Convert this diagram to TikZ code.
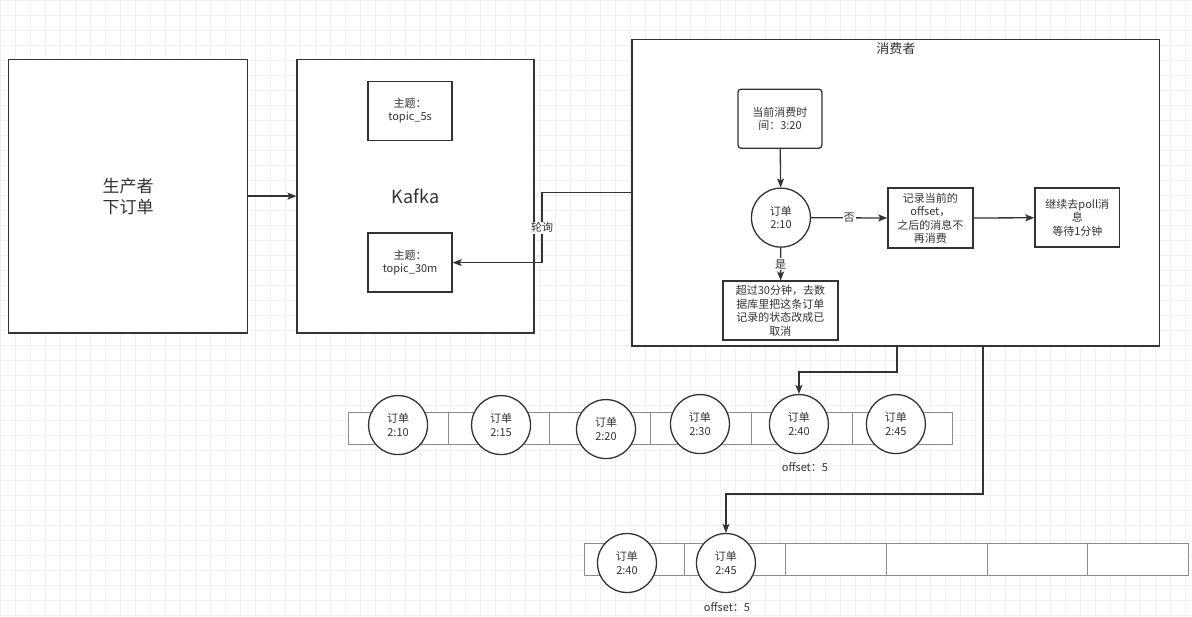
\documentclass[tikz,border=0pt]{standalone}
\usepackage{fontspec}
\setmainfont{Noto Sans CJK SC}
\usetikzlibrary{positioning, arrows.meta, calc}
\definecolor{linegray}{HTML}{333333}
\definecolor{cellgray}{HTML}{8C8C8C}

\begin{document}
\begin{tikzpicture}[
  x=1pt, y=-1pt,
  every node/.style={text=linegray, align=center, font=\fontsize{11}{13.5}\selectfont},
  box/.style={draw=linegray, line width=1.3pt, fill=white, inner sep=2pt},
  bigbox/.style={box, font=\fontsize{17}{21}\selectfont},
  cell/.style={draw=cellgray, line width=0.8pt, fill=white, minimum width=100.8pt, minimum height=32pt},
  order/.style={circle, draw=linegray, line width=1.3pt, fill=white, minimum size=59pt, inner sep=0pt},
  arr/.style={draw=linegray, line width=1.3pt, -{Stealth[length=9pt, width=7pt, inset=2pt]}},
  tag/.style={fill=white, inner sep=1pt}
]

% background grid
\fill[white] (0,0) rectangle (1192,616);
\draw[black!6, line width=0.4pt, step=15pt] (0,0) grid (1192,616);
\useasboundingbox (0,0) rectangle (1192,616);

% producer and kafka
\node[bigbox, minimum width=239pt, minimum height=274pt] (producer) at (128,196) {生产者\\下订单};
\node[bigbox, minimum width=237pt, minimum height=274pt, font=\fontsize{18}{22}\selectfont] (kafka) at (415.5,196) {Kafka};
\node[box, minimum width=84pt, minimum height=59pt] (topic5s) at (410,110.5) {主题：\\topic\_5s};
\node[box, minimum width=84pt, minimum height=59pt] (topic30m) at (410,262.5) {主题：\\topic\_30m};

% consumer
\node[box, minimum width=528pt, minimum height=307pt] (consumer) at (896,192.5) {};
\node[font=\fontsize{13}{16}\selectfont] (consumerTitle) at (896,48) {消费者};
\node[box, rounded corners=3pt, minimum width=84pt, minimum height=59pt] (timebox) at (780,118.5) {当前消费时\\间：3:20};
\node[order] (check) at (781,217.5) {订单\\2:10};
\node[box, minimum width=85pt, minimum height=60pt] (recordbox) at (930.5,218) {记录当前的\\offset，\\之后的消息不\\再消费};
\node[box, minimum width=85pt, minimum height=59pt] (pollbox) at (1077.5,217.5) {继续去poll消\\息\\等待1分钟};
\node[box, minimum width=115pt, minimum height=59pt] (cancelbox) at (780.5,310.5) {超过30分钟，去数\\据库里把这条订单\\记录的状态改成已\\取消};

\draw[arr] (producer) -- (kafka);
\draw[arr] (consumer.west) -- (542,192.5) |- node[tag, pos=0.25] {轮询} (topic30m.east);
\draw[arr] (timebox) -- (check);
\draw[arr] (check) -- node[tag] {否} (recordbox);
\draw[arr] (recordbox) -- (pollbox);
\draw[arr] (check) -- node[tag] {是} (cancelbox);

% first partition row
\foreach \i in {0,...,5}
  \node[cell] (cellA\i) at (398.4+100.8*\i,428) {};
\foreach \x/\y/\t [count=\i from 0] in {398/425/2:10, 501/425/2:15, 606/429/2:20, 700/424/2:30, 799/424/2:40, 896/424/2:45}
  \node[order] (ordA\i) at (\x,\y) {订单\\\t};
\node (offsetA) at (805,467) {offset：5};

% second partition row
\foreach \i in {0,...,5}
  \node[cell] (cellB\i) at (634.4+100.8*\i,559) {};
\node[order] (ordB0) at (627,563) {订单\\2:40};
\node[order] (ordB1) at (726,563) {订单\\2:45};
\node (offsetB) at (727,607) {offset：5};

\coordinate (turnA) at (897,372);
\coordinate (turnB) at (983,494);
\draw[arr] (turnA |- consumer.south) -- (turnA) -| (ordA4.north);
\draw[arr] (turnB |- consumer.south) -- (turnB) -| (ordB1.north);

\end{tikzpicture}
\end{document}
